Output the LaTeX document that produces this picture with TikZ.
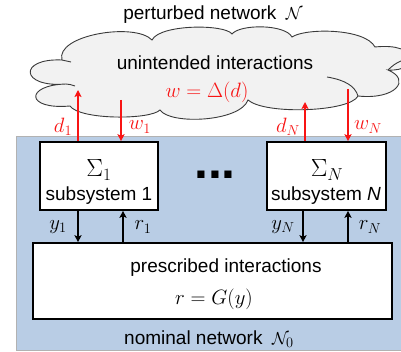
\documentclass[tikz,border=0pt]{standalone}
\usepackage{fontspec}
\setmainfont{Liberation Sans}
\usetikzlibrary{arrows.meta}
\definecolor{bgblue}{HTML}{B9CDE5}
\definecolor{cloudfill}{HTML}{F2F2F2}
\definecolor{cloudline}{HTML}{3A3A3A}
\definecolor{sigred}{HTML}{F81414}
\tikzset{
  sysbox/.style={draw=black, line width=1.6pt, fill=white, inner sep=0pt},
  lbl/.style={inner sep=0pt, font=\fontsize{19}{22}\selectfont},
  mlbl/.style={inner sep=0pt, font=\fontsize{20}{24}\selectfont},
  eqlbl/.style={inner sep=0pt, font=\fontsize{22}{26}\selectfont},
  symlbl/.style={inner sep=0pt, font=\fontsize{27}{30}\selectfont},
  sig/.style={line width=1.4pt, -{Stealth[length=7pt,width=7pt,inset=1.5pt]}},
  redsig/.style={sig, draw=sigred},
}
\begin{document}
\begin{tikzpicture}[x=1pt,y=-1pt]
\useasboundingbox (0,0) rectangle (401,352);
% nominal network background
\node (nominal) [fill=bgblue, draw=black!30, line width=0.4pt, anchor=north west, minimum width=386pt, minimum height=214pt, inner sep=0pt] at (16,136) {};
% cloud
\draw[fill=cloudfill, draw=cloudline, line width=0.9pt]
  (66,84) .. controls (20,88) and (18,58) .. (62,60)
  .. controls (55,35) and (135,22) .. (152,40)
  .. controls (160,24) and (225,24) .. (232,34)
  .. controls (240,24) and (285,24) .. (292,37)
  .. controls (305,28) and (365,28) .. (375,47)
  .. controls (420,42) and (420,72) .. (388,70)
  .. controls (412,80) and (395,100) .. (358,96)
  .. controls (350,112) and (265,115) .. (248,100)
  .. controls (240,122) and (170,125) .. (160,110)
  .. controls (150,120) and (80,120) .. (70,106)
  .. controls (25,110) and (25,85) .. (66,84) -- cycle;
\draw[draw=cloudline, line width=0.9pt] (327,77) .. controls (345,80) and (355,86) .. (358,96);
\draw[draw=cloudline, line width=0.9pt] (388,70) .. controls (392,66) and (396,63) .. (401,61);
\draw[draw=cloudline, line width=0.9pt] (62,60) .. controls (65,61) and (68,61) .. (71,62);
\draw[draw=cloudline, line width=0.9pt] (66,84) .. controls (69,84) and (72,85) .. (75,86);
\node (cloudtitle) [lbl] at (215,63) {unintended interactions};
\node (cloudeq) [eqlbl, text=sigred] at (207,92) {$w=\Delta(d)$};
\node (pertitle) [lbl] at (213,15) {perturbed network\enspace$\mathcal{N}$};
% subsystems
\node (s1) [sysbox, minimum width=118pt, minimum height=68pt] at (99,176) {};
\node (sN) [sysbox, minimum width=119pt, minimum height=68pt] at (326.5,176) {};
\node (s1sym) [symlbl] at (99,170) {$\Sigma_1$};
\node (s1txt) [lbl] at (99,196) {subsystem 1};
\node (sNsym) [symlbl] at (327,170) {$\Sigma_N$};
\node (sNtxt) [lbl] at (326,196) {subsystem \textit{N}};
\node (dots) [inner sep=0pt, font=\fontsize{50}{56}\selectfont\bfseries] at (215,175) {...};
% prescribed interactions
\node (G) [sysbox, minimum width=359pt, minimum height=76pt] at (212.5,281) {};
\node (Gtxt) [lbl] at (226,268) {prescribed interactions};
\node (Geq) [eqlbl] at (214,299) {$r=G(y)$};
\node (nomtxt) [lbl] at (209,339) {nominal network\enspace$\mathcal{N}_0$};
% end points in cloud
\coordinate (d1end) at (78,90);
\coordinate (w1start) at (121,100);
\coordinate (dNend) at (305,102);
\coordinate (wNstart) at (348,89);
% red arrows
\draw[redsig] (d1end |- s1.north) -- (d1end);
\draw[redsig] (w1start) -- (w1start |- s1.north);
\draw[redsig] (dNend |- sN.north) -- (dNend);
\draw[redsig] (wNstart) -- (wNstart |- sN.north);
\node (d1lbl) [mlbl, text=sigred] at (63,127) {$d_1$};
\node (w1lbl) [mlbl, text=sigred] at (140,127) {$w_1$};
\node (dNlbl) [mlbl, text=sigred] at (288,127) {$d_N$};
\node (wNlbl) [mlbl, text=sigred] at (368,127) {$w_N$};
% black arrows
\coordinate (y1x) at (78,0);
\coordinate (r1x) at (123,0);
\coordinate (yNx) at (303,0);
\coordinate (rNx) at (348,0);
\draw[sig] (y1x |- s1.south) -- (y1x |- G.north);
\draw[sig] (r1x |- G.north) -- (r1x |- s1.south);
\draw[sig] (yNx |- sN.south) -- (yNx |- G.north);
\draw[sig] (rNx |- G.north) -- (rNx |- sN.south);
\node (y1lbl) [mlbl] at (58,227) {$y_1$};
\node (r1lbl) [mlbl] at (143,227) {$r_1$};
\node (yNlbl) [mlbl] at (283,227) {$y_N$};
\node (rNlbl) [mlbl] at (370,227) {$r_N$};
\end{tikzpicture}
\end{document}
